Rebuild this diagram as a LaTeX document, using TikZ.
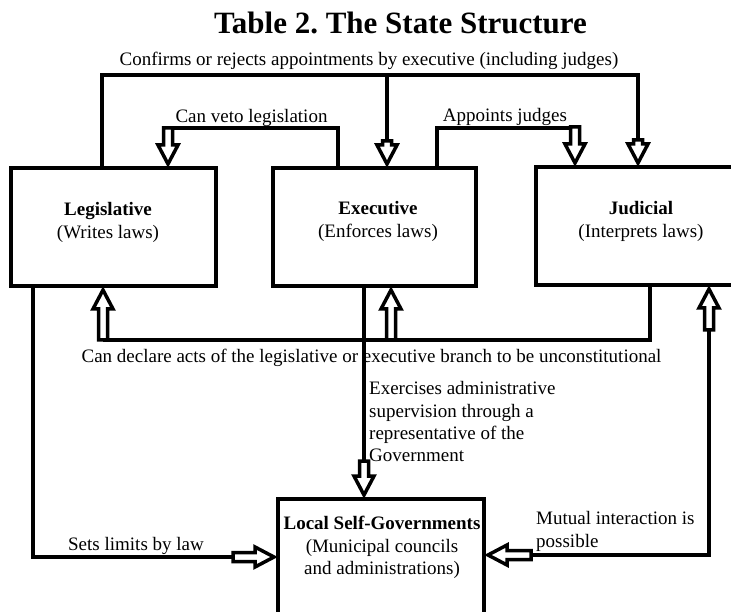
\documentclass[tikz,border=0pt]{standalone}
\usepackage{fontspec}
\setmainfont{Liberation Serif}
\frenchspacing
\newcommand\barr[3]{\draw[blockar, shift={(#1)}, rotate=#2] (-2,0) -- (-21,10) -- (-21,4.5) -- (-#3,4.5) -- (-#3,-4.5) -- (-21,-4.5) -- (-21,-10) -- cycle;}
\begin{document}
\begin{tikzpicture}[x=1pt,y=1pt,
  box/.style={draw, line width=4pt, inner sep=0pt},
  conn/.style={draw, line width=4pt, line join=miter},
  blockar/.style={draw, fill=white, line width=3.5pt, line join=miter},
  lbl/.style={font=\fontsize{19}{22.3}\selectfont, inner sep=0pt, yshift=-2.5pt},
  ttl/.style={font=\fontsize{31}{36}\selectfont\bfseries, inner sep=0pt}]
\useasboundingbox (0,0) rectangle (731,-612);

% boxes
\node[box, minimum width=205pt, minimum height=118pt] (leg) at (113.5,-227) {};
\node[box, minimum width=203pt, minimum height=118pt] (exe) at (374.5,-227) {};
\node[box, minimum width=224pt, minimum height=118pt] (jud) at (648,-226) {};
\node[box, minimum width=206pt, minimum height=131pt] (loc) at (381,-564.5) {};

% box texts
\node[lbl, align=center] (legt) at (108,-220) {\textbf{Legislative}\\(Writes laws)};
\node[lbl, align=center] (exet) at (378,-219) {\textbf{Executive}\\(Enforces laws)};
\node[lbl, align=center] (judt) at (641,-219) {\textbf{Judicial}\\(Interprets laws)};
\node[lbl, align=center] (loct) at (382,-545) {\textbf{Local Self-Governments}\\(Municipal councils\\and administrations)};

% labels
\node[ttl] (title) at (400.5,-23) {Table 2. The State Structure};
\node[lbl] (confl) at (369,-58) {Confirms or rejects appointments by executive (including judges)};
\node[lbl] (vetol) at (251.5,-115) {Can veto legislation};
\node[lbl] (appl) at (505,-114) {Appoints judges};
\node[lbl] (decl) at (371.5,-355) {Can declare acts of the legislative or executive branch to be unconstitutional};
\node[lbl, align=left, anchor=north west] (exl) at (369,-379) {Exercises administrative\\supervision through a\\representative of the\\Government};
\node[lbl] (setl) at (136,-543) {Sets limits by law};
\node[lbl, align=left, anchor=north west] (mutl) at (536,-509) {Mutual interaction is\\possible};

% coordinates
\coordinate (cf1) at (102,-75);
\coordinate (cf2) at (638,-75);
\coordinate (cfE) at (387,-75);
\coordinate (v1) at (338,-128);
\coordinate (v2) at (168,-128);
\coordinate (ap1) at (437,-128);
\coordinate (ap2) at (575,-128);
\coordinate (d1) at (650,-340);
\coordinate (d2) at (103,-340);
\coordinate (d3) at (391,-340);
\coordinate (e1) at (364,-461);
\coordinate (s1) at (33,-557);
\coordinate (s2) at (233,-557);
\coordinate (m1) at (709,-330);
\coordinate (m2) at (709,-555);
\coordinate (m3) at (531,-555);

% connectors
\draw[conn] (leg.north -| cf1) -- (cf1) -- (cf2) -- ++(0,-68);
\draw[conn] (cfE) -- ++(0,-68);
\barr{jud.north -| cf2}{-90}{25}
\barr{exe.north -| cfE}{-90}{25}

\draw[conn] (exe.north -| v1) -- (v1) -- (v2);
\barr{leg.north -| v2}{-90}{38}

\draw[conn] (exe.north -| ap1) -- (ap1) -- (ap2);
\barr{jud.north -| ap2}{-90}{38}

\draw[conn] (jud.south -| d1) -- (d1) -- (d2);
\barr{leg.south -| d2}{90}{52}
\barr{exe.south -| d3}{90}{52}

\draw[conn] (exe.south -| e1) -- (e1);
\barr{loc.north -| e1}{-90}{36}

\draw[conn] (leg.south -| s1) -- (s1) -- (s2);
\barr{loc.west |- s2}{0}{43}

\draw[conn] (m3) -- (m2) -- (m1);
\barr{jud.south -| m1}{90}{43}
\barr{loc.east |- m3}{180}{45}
\end{tikzpicture}
\end{document}
